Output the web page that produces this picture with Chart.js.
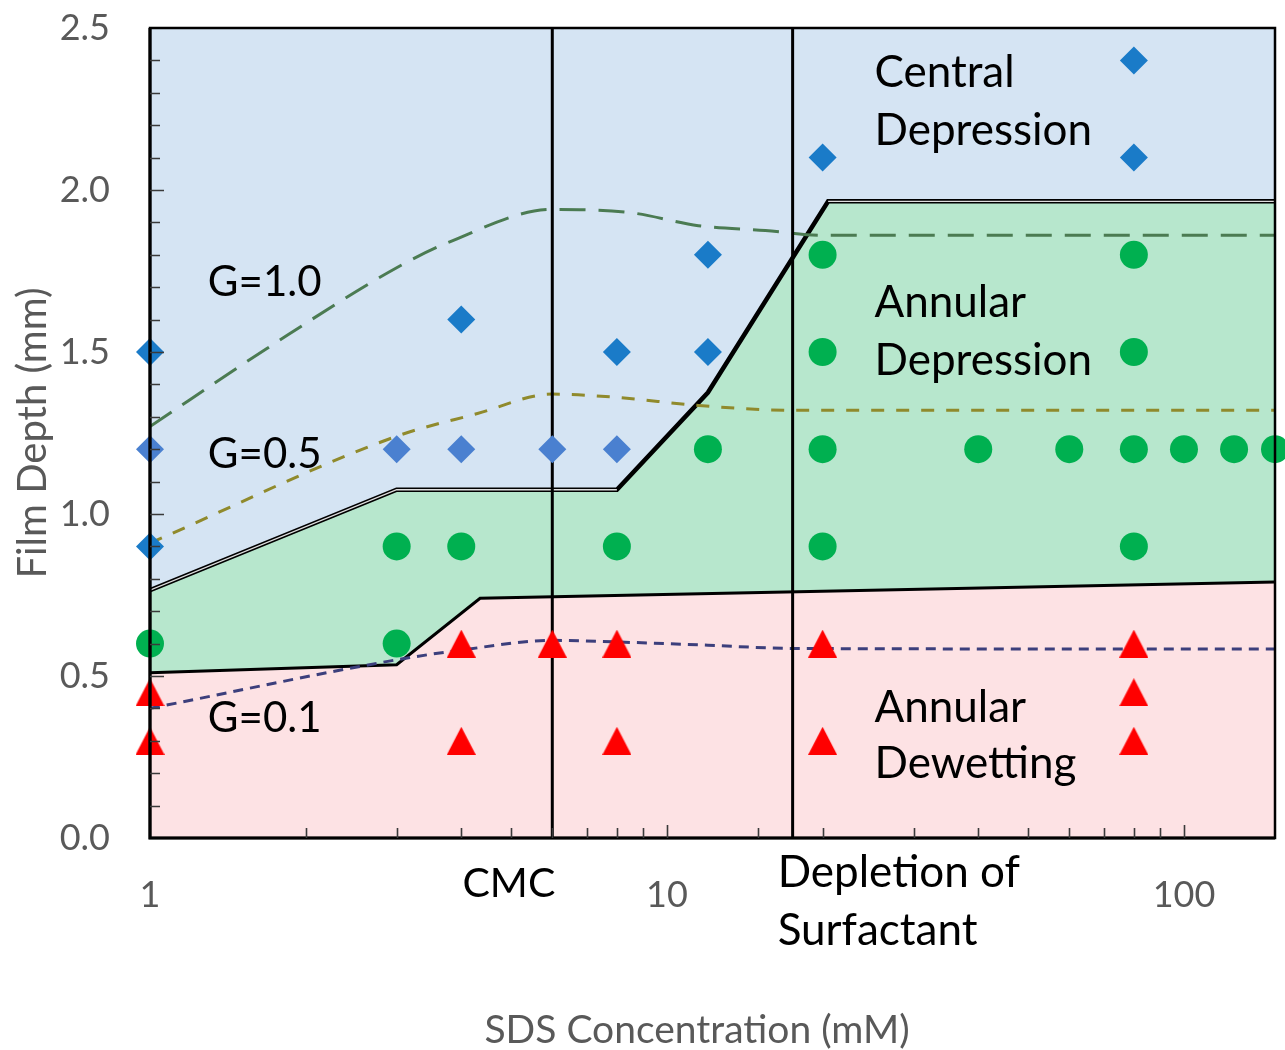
<!DOCTYPE html>
<html>
<head>
<meta charset="utf-8">
<script src="https://cdn.jsdelivr.net/npm/chart.js@4/dist/chart.umd.min.js"></script>
<style>
  html, body { margin: 0; padding: 0; background: #ffffff; }
  #wrap { width: 1285px; height: 1050px; }
</style>
</head>
<body>
<div id="wrap"><canvas id="chart" width="1285" height="1050"></canvas></div>
<script>
// ---- Observations: film depth (mm) vs SDS concentration (mM) ----
const centralX = [1, 1, 4, 8, 12, 12, 20, 80, 80];
const centralY = [1.5, 0.9, 1.6, 1.5, 1.8, 1.5, 2.1, 2.4, 2.1];
const centralRowX = [1, 3, 4, 6, 8];
const centralRowY = [1.2, 1.2, 1.2, 1.2, 1.2];
const annularX = [1, 3, 3, 4, 8, 12, 20, 20, 20, 20, 40, 60, 80, 80, 80, 80, 100, 125, 150];
const annularY = [0.6, 0.9, 0.6, 0.9, 0.9, 1.2, 1.8, 1.5, 1.2, 0.9, 1.2, 1.2, 1.8, 1.5, 1.2, 0.9, 1.2, 1.2, 1.2];
const dewetX = [1, 1, 4, 4, 6, 8, 8, 20, 20, 80, 80, 80];
const dewetY = [0.45, 0.3, 0.6, 0.3, 0.6, 0.6, 0.3, 0.6, 0.3, 0.6, 0.45, 0.3];

// ---- Regime boundaries ----
const upperBoundX = [1, 3, 8, 12, 20.5, 150];
const upperBoundY = [0.765, 1.075, 1.075, 1.375, 1.965, 1.965];
const lowerBoundX = [1, 3, 4.35, 150];
const lowerBoundY = [0.51, 0.535, 0.74, 0.79];

// ---- Model curves for gravity number G ----
const g10X = [1, 1.68, 3, 3.8, 6, 8.5, 11.5, 15.5, 20, 150];
const g10Y = [1.27, 1.51, 1.76, 1.84, 1.94, 1.93, 1.89, 1.875, 1.86, 1.86];
const g05X = [1, 3, 4.3, 6, 8, 11.5, 17.5, 150];
const g05Y = [0.91, 1.24, 1.31, 1.37, 1.36, 1.335, 1.32, 1.32];
const g01X = [1, 3, 4, 6, 8, 12, 17.5, 150];
const g01Y = [0.40, 0.55, 0.58, 0.61, 0.605, 0.595, 0.585, 0.583];

// ---- Reference concentrations ----
const cmcX = 6;
const depletionX = 17.5;

// ---- Axis ranges and labels ----
const xMin = 1, xMax = 150;
const yMin = 0, yMax = 2.5;
const xLabelValues = [1, 10, 100];
const xTitle = 'SDS Concentration (mM)';
const yTitle = 'Film Depth (mm)';

const pts = (xs, ys) => xs.map((x, i) => ({ x, y: ys[i] }));

const FONT = 'Lato, "Open Sans", sans-serif';
const GREY = '#595959';

function triangleMarker(w, h, color) {
  const c = document.createElement('canvas');
  c.width = w; c.height = h;
  const g = c.getContext('2d');
  g.fillStyle = color;
  g.beginPath();
  g.moveTo(w / 2, 0);
  g.lineTo(w, h);
  g.lineTo(0, h);
  g.closePath();
  g.fill();
  return c;
}
const redTriangle = triangleMarker(29, 28, '#ff0000');

// Keep the plot box fixed: no extra room reserved for edge tick labels
function pinPadding(s) {
  s.paddingTop = 0; s.paddingBottom = 0; s.paddingLeft = 0; s.paddingRight = 0;
}

// Inward tick marks, plot frame, x-axis title and in-plot labels
const decorations = {
  id: 'decorations',
  afterDraw(chart) {
    const { ctx, chartArea: a, scales: { x, y } } = chart;
    ctx.save();
    // frame
    ctx.strokeStyle = '#000';
    ctx.lineWidth = 2.5;
    ctx.strokeRect(a.left, a.top, a.right - a.left, a.bottom - a.top);
    ctx.lineWidth = 3.2;
    ctx.beginPath();
    ctx.moveTo(a.left, a.top); ctx.lineTo(a.left, a.bottom); ctx.lineTo(a.right, a.bottom);
    ctx.stroke();

    // tick marks pointing into the plot
    ctx.strokeStyle = '#3a3a3a';
    ctx.lineWidth = 1.6;
    ctx.beginPath();
    x.ticks.forEach(t => {
      if (t.value <= xMin || t.value >= xMax) return;
      const lg = Math.log10(t.value);
      const len = Math.abs(lg - Math.round(lg)) < 1e-9 ? 13 : 10;
      const px = Math.round(x.getPixelForValue(t.value)) + 0.5;
      ctx.moveTo(px, a.bottom); ctx.lineTo(px, a.bottom - len);
    });
    y.ticks.forEach(t => {
      if (t.value <= yMin || t.value >= yMax) return;
      const half = Math.abs(t.value * 2 - Math.round(t.value * 2)) < 1e-6;
      const py = Math.round(y.getPixelForValue(t.value)) + 0.5;
      ctx.moveTo(a.left, py); ctx.lineTo(a.left + (half ? 14 : 10), py);
    });
    ctx.stroke();

    // x-axis title
    ctx.fillStyle = GREY;
    ctx.font = '39px ' + FONT;
    ctx.textAlign = 'center';
    ctx.textBaseline = 'middle';
    ctx.fillText(xTitle, a.left + 547, a.bottom + 192);

    // region and curve labels
    ctx.fillStyle = '#000';
    ctx.textAlign = 'left';
    ctx.textBaseline = 'alphabetic';
    const notes = [
      ['G=1.0', 1.294, 1.673, 42],
      ['G=0.5', 1.294, 1.142, 42],
      ['G=0.1', 1.294, 0.327, 42],
      ['Central', 25.2, 2.318, 44],
      ['Depression', 25.2, 2.139, 44],
      ['Annular', 25.2, 1.608, 44],
      ['Depression', 25.2, 1.429, 44],
      ['Annular', 25.2, 0.358, 44],
      ['Dewetting', 25.2, 0.185, 44]
    ];
    notes.forEach(([txt, vx, vy, size]) => {
      ctx.font = size + 'px ' + FONT;
      ctx.fillText(txt, x.getPixelForValue(vx), y.getPixelForValue(vy));
    });

    // labels for the reference concentrations, under the axis
    ctx.font = '41px ' + FONT;
    ctx.textAlign = 'right';
    ctx.fillText('CMC', x.getPixelForValue(cmcX) + 3, a.bottom + 59);
    ctx.font = '44px ' + FONT;
    ctx.textAlign = 'left';
    const dx = x.getPixelForValue(depletionX) - 15;
    ctx.fillText('Depletion of', dx, a.bottom + 49);
    ctx.fillText('Surfactant', dx, a.bottom + 107);
    ctx.restore();
  }
};

const markerBase = { type: 'scatter', showLine: false, clip: false, pointBorderWidth: 0 };

new Chart(document.getElementById('chart'), {
  type: 'scatter',
  data: {
    datasets: [
      { ...markerBase, label: 'Annular dewetting', data: pts(dewetX, dewetY),
        pointStyle: redTriangle, pointRadius: 14, backgroundColor: '#ff0000' },
      { ...markerBase, label: 'Annular depression', data: pts(annularX, annularY),
        pointStyle: 'circle', pointRadius: 14, backgroundColor: '#00b050', borderColor: '#00b050' },
      { ...markerBase, label: 'Central depression', data: pts(centralX, centralY),
        pointStyle: 'rectRot', pointRadius: 14, backgroundColor: '#1a7bc8', borderColor: '#1a7bc8' },
      { ...markerBase, label: 'Central depression (1.2 mm)', data: pts(centralRowX, centralRowY),
        pointStyle: 'rectRot', pointRadius: 14, backgroundColor: '#4a80d0', borderColor: '#4a80d0' },

      { type: 'line', label: 'CMC', data: [{ x: cmcX, y: yMin }, { x: cmcX, y: yMax }],
        borderColor: '#000', borderWidth: 3, pointRadius: 0, fill: false },
      { type: 'line', label: 'Depletion', data: [{ x: depletionX, y: yMin }, { x: depletionX, y: yMax }],
        borderColor: '#000', borderWidth: 3, pointRadius: 0, fill: false },

      { type: 'line', label: 'G=0.1', data: pts(g01X, g01Y), borderColor: '#3c3f7c', borderWidth: 3,
        borderDash: [10, 7], pointRadius: 0, fill: false, cubicInterpolationMode: 'monotone' },
      { type: 'line', label: 'G=0.5', data: pts(g05X, g05Y), borderColor: '#908a2c', borderWidth: 3,
        borderDash: [13, 12], pointRadius: 0, fill: false, cubicInterpolationMode: 'monotone' },
      { type: 'line', label: 'G=1.0', data: pts(g10X, g10Y), borderColor: '#4b7b52', borderWidth: 3,
        borderDash: [26, 13], pointRadius: 0, fill: false, cubicInterpolationMode: 'monotone' },

      // double rule along the upper boundary
      { type: 'line', label: 'upper edge inner', data: pts(upperBoundX, upperBoundY),
        borderWidth: 1.4, pointRadius: 0, fill: false,
        segment: { borderColor: c => (c.p0DataIndex === 2 || c.p0DataIndex === 3) ? 'rgba(0,0,0,0)' : 'rgba(235,235,235,0.95)' } },
      { type: 'line', label: 'Central region', data: pts(upperBoundX, upperBoundY),
        borderColor: '#000', borderWidth: 4.5, pointRadius: 0, fill: 'end', backgroundColor: '#d5e4f3' },
      { type: 'line', label: 'Dewetting region', data: pts(lowerBoundX, lowerBoundY),
        borderColor: '#000', borderWidth: 3, pointRadius: 0, fill: 'origin', backgroundColor: '#fde2e4' },
      { type: 'line', label: 'Annular region', data: pts(upperBoundX, upperBoundY),
        borderWidth: 0, borderColor: 'rgba(0,0,0,0)', pointRadius: 0, fill: 'origin', backgroundColor: '#b7e7cd' }
    ]
  },
  options: {
    responsive: false,
    devicePixelRatio: 1,
    animation: false,
    layout: { autoPadding: false, padding: { left: 0, top: 28, right: 10, bottom: 0 } },
    plugins: { legend: { display: false }, tooltip: { enabled: false } },
    scales: {
      x: {
        type: 'logarithmic', position: 'bottom', min: xMin, max: xMax,
        grid: { display: false, drawTicks: false }, border: { display: false },
        ticks: {
          autoSkip: false, maxRotation: 0, padding: 36, color: GREY,
          font: { family: FONT, size: 36 },
          callback: v => xLabelValues.includes(v) ? String(v) : ''
        },
        title: { display: false },
        afterFit: s => { s.height = 212; pinPadding(s); }
      },
      y: {
        type: 'linear', min: yMin, max: yMax,
        grid: { display: false, drawTicks: false }, border: { display: false },
        ticks: {
          stepSize: 0.1, autoSkip: false, padding: 40, color: GREY,
          font: { family: FONT, size: 36 },
          callback: v => Math.abs(v * 2 - Math.round(v * 2)) < 1e-6 ? v.toFixed(1) : ''
        },
        title: { display: true, text: yTitle, color: GREY, font: { family: FONT, size: 40 },
                 padding: { top: 9, bottom: 0 } },
        afterFit: s => { s.width = 150; pinPadding(s); }
      }
    }
  },
  plugins: [decorations]
});
</script>
</body>
</html>
